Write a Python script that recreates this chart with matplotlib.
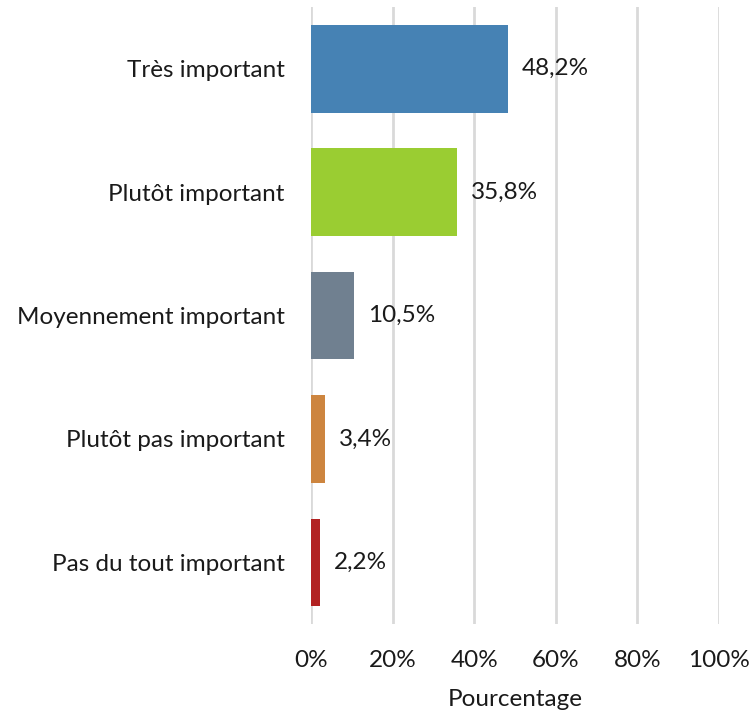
import matplotlib
import matplotlib.pyplot as plt
from matplotlib.ticker import MultipleLocator, FuncFormatter
matplotlib.use('Agg')

categories = ['Très important', 'Plutôt important', 'Moyennement important',
              'Plutôt pas important', 'Pas du tout important']
values = [48.2, 35.8, 10.5, 3.4, 2.2]
colors = ['#4682B4', '#9ACD32', '#708090', '#CD853F', '#B22222']

plt.rcParams['font.family'] = ['Lato', 'DejaVu Sans']
FS = 17.5

fig = plt.figure(figsize=(7.5, 7.14), dpi=100)
ax = fig.add_axes([0.4147, 0.126, 0.544, 0.864])

ypos = list(range(len(categories)))
ax.barh(ypos, values, height=0.71, color=colors, zorder=3)

# value labels next to the bars
for y, v in zip(ypos, values):
    ax.annotate(f'{v:.1f}%'.replace('.', ','), xy=(v, y), xytext=(10, 0),
                textcoords='offset points', ha='left', va='center',
                fontsize=FS, color='#1a1a1a')

ax.set_xlim(0, 100)
ax.set_ylim(len(categories) - 0.5, -0.5)
ax.set_yticks(ypos)
ax.set_yticklabels(categories, fontsize=FS, color='#1a1a1a')
ax.xaxis.set_major_locator(MultipleLocator(20))
ax.xaxis.set_major_formatter(FuncFormatter(lambda x, p: f'{x:.0f}%'))
ax.tick_params(axis='x', labelsize=FS, colors='#1a1a1a', length=0, pad=19)
ax.tick_params(axis='y', length=0, pad=19)
ax.set_xlabel('Pourcentage', fontsize=FS, color='#1a1a1a', labelpad=13)

ax.grid(axis='x', color='#d9d9d9', linewidth=2, zorder=0)
for s in ax.spines.values():
    s.set_visible(False)

plt.savefig('out.png', dpi=100)
